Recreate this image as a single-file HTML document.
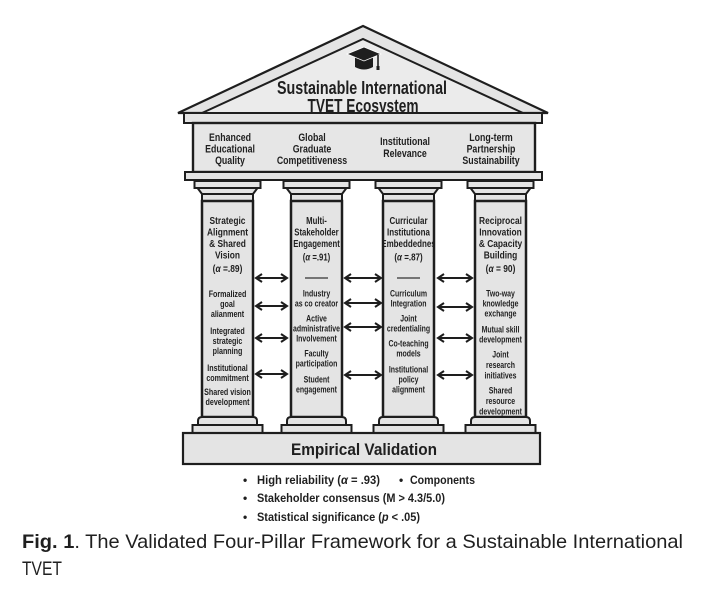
<!DOCTYPE html>
<html><head><meta charset="utf-8"><style>
html,body{margin:0;padding:0;background:#fff;}
svg{display:block;}
text{font-family:"Liberation Sans",Arial,sans-serif;fill:#1f1f1f;}
</style></head><body>
<svg width="712" height="600" viewBox="0 0 712 600" xmlns="http://www.w3.org/2000/svg">
<defs>
<clipPath id="c1"><rect x="203" y="200" width="50" height="218"/></clipPath>
<clipPath id="c2"><rect x="291" y="200" width="51" height="218"/></clipPath>
<clipPath id="c3"><rect x="383" y="200" width="51" height="218"/></clipPath>
<clipPath id="c4"><rect x="475" y="200" width="51" height="218"/></clipPath>
</defs>
<rect width="712" height="600" fill="#fff"/>

<!-- Roof -->
<polygon points="363,26 178,113 548,113" fill="#e4e4e4" stroke="#1e1e1e" stroke-width="2.2" stroke-linejoin="miter"/>
<polyline points="202,113 363,39 523,113" fill="#ebebeb" stroke="#1e1e1e" stroke-width="2"/>
<!-- grad cap -->
<path d="M355,57 L373,57 L373,67 Q364,72 355,67 Z" fill="#1e1e1e"/>
<polygon points="347,54 364,47 381,54 364,61" fill="#1e1e1e" stroke="#fff" stroke-width="0.8"/>
<line x1="378" y1="55" x2="378" y2="68" stroke="#1e1e1e" stroke-width="1.6"/>
<rect x="376.5" y="66" width="3" height="4" fill="#1e1e1e"/>
<text x="362" y="94" font-size="18" font-weight="bold" text-anchor="middle" textLength="170" lengthAdjust="spacingAndGlyphs">Sustainable International</text>
<text x="363" y="112" font-size="18" font-weight="bold" text-anchor="middle" textLength="111" lengthAdjust="spacingAndGlyphs">TVET Ecosystem</text>

<!-- Cornice -->
<rect x="184" y="113" width="358" height="10" fill="#e4e4e4" stroke="#1e1e1e" stroke-width="2"/>
<!-- Entablature -->
<rect x="193" y="123" width="342" height="49" fill="#e6e6e6" stroke="#1e1e1e" stroke-width="2.4"/>
<rect x="185" y="172" width="357" height="8" fill="#e4e4e4" stroke="#1e1e1e" stroke-width="2"/>

<g font-size="11" font-weight="bold" text-anchor="middle">
<g transform="translate(230,0) scale(0.8,1)">
<text x="0" y="141">Enhanced</text><text x="0" y="152.5">Educational</text><text x="0" y="164">Quality</text></g>
<g transform="translate(312,0) scale(0.8,1)">
<text x="0" y="141">Global</text><text x="0" y="152.5">Graduate</text><text x="0" y="164">Competitiveness</text></g>
<g transform="translate(405,0) scale(0.8,1)">
<text x="0" y="145">Institutional</text><text x="0" y="157">Relevance</text></g>
<g transform="translate(491,0) scale(0.8,1)">
<text x="0" y="141">Long-term</text><text x="0" y="152.5">Partnership</text><text x="0" y="164">Sustainability</text></g>
</g>

<!-- Pillars -->
<g fill="#e4e4e4" stroke="#1e1e1e" stroke-width="2">
<!-- p1 cx 227.5 -->
<rect x="194.5" y="181" width="66" height="7"/>
<polygon points="197.5,188 257.5,188 253,194 202,194"/>
<rect x="202" y="194" width="51" height="7"/>
<rect x="202" y="201" width="51" height="216" stroke-width="2.5"/>
<path d="M202,417 L253,417 Q257,417 257,421 L257,425 L198,425 L198,421 Q198,417 202,417 Z"/>
<rect x="192.5" y="425" width="70" height="8"/>
<!-- p2 cx 316.5 -->
<rect x="283.5" y="181" width="66" height="7"/>
<polygon points="286.5,188 346.5,188 342,194 291,194"/>
<rect x="291" y="194" width="51" height="7"/>
<rect x="291" y="201" width="51" height="216" stroke-width="2.5"/>
<path d="M291,417 L342,417 Q346,417 346,421 L346,425 L287,425 L287,421 Q287,417 291,417 Z"/>
<rect x="281.5" y="425" width="70" height="8"/>
<!-- p3 cx 408.5 -->
<rect x="375.5" y="181" width="66" height="7"/>
<polygon points="378.5,188 438.5,188 434,194 383,194"/>
<rect x="383" y="194" width="51" height="7"/>
<rect x="383" y="201" width="51" height="216" stroke-width="2.5"/>
<path d="M383,417 L434,417 Q438,417 438,421 L438,425 L379,425 L379,421 Q379,417 383,417 Z"/>
<rect x="373.5" y="425" width="70" height="8"/>
<!-- p4 cx 500.5 -->
<rect x="467.5" y="181" width="66" height="7"/>
<polygon points="470.5,188 530.5,188 526,194 475,194"/>
<rect x="475" y="194" width="51" height="7"/>
<rect x="475" y="201" width="51" height="216" stroke-width="2.5"/>
<path d="M475,417 L526,417 Q530,417 530,421 L530,425 L471,425 L471,421 Q471,417 475,417 Z"/>
<rect x="465.5" y="425" width="70" height="8"/>
</g>

<!-- Pillar texts -->
<g text-anchor="middle" font-weight="bold">
<!-- P1 -->
<g clip-path="url(#c1)"><g transform="translate(227.5,0) scale(0.8,1)">
<g font-size="10.5">
<text x="0" y="224">Strategic</text><text x="0" y="235.5">Alignment</text><text x="0" y="247">&amp; Shared</text><text x="0" y="258.5">Vision</text>
<text x="0" y="272">(<tspan font-style="italic">α</tspan> =.89)</text></g>
</g><g transform="translate(227.5,0) scale(0.76,1)" font-size="9.4">
<text x="0" y="297">Formalized</text><text x="0" y="307">goal</text><text x="0" y="317">alianment</text>
<text x="0" y="334">Integrated</text><text x="0" y="344">strategic</text><text x="0" y="354">planning</text>
<text x="0" y="371">Institutional</text><text x="0" y="381">commitment</text>
<text x="0" y="395">Shared vision</text><text x="0" y="405">development</text>
</g></g>
<!-- P2 -->
<g clip-path="url(#c2)"><g transform="translate(316.5,0) scale(0.74,1)">
<g font-size="10.5">
<text x="0" y="224">Multi-</text><text x="0" y="235.5">Stakeholder</text><text x="0" y="247">Engagement</text>
<text x="0" y="260.5">(<tspan font-style="italic">α</tspan> =.91)</text></g>
</g><g transform="translate(316.5,0) scale(0.74,1)" font-size="9.4">
<text x="0" y="296.5">Industry</text><text x="0" y="306.5">as co creator</text>
<text x="0" y="321.5">Active</text><text x="0" y="331.5">administrative</text><text x="0" y="341.5">Involvement</text>
<text x="0" y="356.5">Faculty</text><text x="0" y="366.5">participation</text>
<text x="0" y="382.5">Student</text><text x="0" y="392.5">engagement</text>
</g></g>
<!-- P3 -->
<g clip-path="url(#c3)"><g transform="translate(408.5,0) scale(0.76,1)">
<g font-size="10.5">
<text x="0" y="224">Curricular</text><text x="0" y="235.5">Institutiona</text><text x="0" y="247">Embeddednes</text>
<text x="0" y="260.5">(<tspan font-style="italic">α</tspan> =.87)</text></g>
</g><g transform="translate(408.5,0) scale(0.74,1)" font-size="9.4">
<text x="0" y="296.5">Curriculum</text><text x="0" y="306.5">Integration</text>
<text x="0" y="321.5">Joint</text><text x="0" y="331.5">credentialing</text>
<text x="0" y="346.5">Co-teaching</text><text x="0" y="356.5">models</text>
<text x="0" y="372.5">Institutional</text><text x="0" y="382.5">policy</text><text x="0" y="392.5">alignment</text>
</g></g>
<!-- P4 -->
<g clip-path="url(#c4)"><g transform="translate(500.5,0) scale(0.8,1)">
<g font-size="10.5">
<text x="0" y="224">Reciprocal</text><text x="0" y="235.5">Innovation</text><text x="0" y="247">&amp; Capacity</text><text x="0" y="258.5">Building</text>
<text x="0" y="272">(<tspan font-style="italic">α</tspan> = 90)</text></g>
</g><g transform="translate(500.5,0) scale(0.74,1)" font-size="9.4">
<text x="0" y="296.5">Two-way</text><text x="0" y="306.5">knowledge</text><text x="0" y="316.5">exchange</text>
<text x="0" y="332.5">Mutual skill</text><text x="0" y="342.5">development</text>
<text x="0" y="357.5">Joint</text><text x="0" y="368">research</text><text x="0" y="378.5">initiatives</text>
<text x="0" y="393.5">Shared</text><text x="0" y="404">resource</text><text x="0" y="414.5">development</text>
</g></g>
</g>

<!-- separators -->
<line x1="305" y1="278" x2="328" y2="278" stroke="#333" stroke-width="1.2"/>
<line x1="397" y1="278" x2="420" y2="278" stroke="#333" stroke-width="1.2"/>

<!-- Arrows -->
<g stroke="#1e1e1e" stroke-width="2" fill="none" stroke-linecap="butt" stroke-linejoin="miter">
<!-- p1-p2 -->
<path d="M256,278 H287 M262,274 L256,278 L262,282 M281,274 L287,278 L281,282"/>
<path d="M256,306 H287 M262,302 L256,306 L262,310 M281,302 L287,306 L281,310"/>
<path d="M256,338 H287 M262,334 L256,338 L262,342 M281,334 L287,338 L281,342"/>
<path d="M256,374 H287 M262,370 L256,374 L262,378 M281,370 L287,374 L281,378"/>
<!-- p2-p3 -->
<path d="M345,278 H381 M351,274 L345,278 L351,282 M375,274 L381,278 L375,282"/>
<path d="M345,303 H381 M351,299 L345,303 L351,307 M375,299 L381,303 L375,307"/>
<path d="M345,327 H381 M351,323 L345,327 L351,331 M375,323 L381,327 L375,331"/>
<path d="M345,375 H381 M351,371 L345,375 L351,379 M375,371 L381,375 L375,379"/>
<!-- p3-p4 -->
<path d="M438,278 H472 M444,274 L438,278 L444,282 M466,274 L472,278 L466,282"/>
<path d="M438,307 H472 M444,303 L438,307 L444,311 M466,303 L472,307 L466,311"/>
<path d="M438,338 H472 M444,334 L438,338 L444,342 M466,334 L472,338 L466,342"/>
<path d="M438,375 H472 M444,371 L438,375 L444,379 M466,371 L472,375 L466,379"/>
</g>

<!-- Stylobate -->
<rect x="183" y="433" width="357" height="31" fill="#e4e4e4" stroke="#1e1e1e" stroke-width="2.2"/>
<text x="364" y="455" font-size="17" font-weight="bold" text-anchor="middle" textLength="146" lengthAdjust="spacingAndGlyphs">Empirical Validation</text>

<!-- Bullets -->
<g font-size="12" font-weight="bold" fill="#2a2a2a">
<text x="243" y="484">•</text>
<text x="257" y="484" textLength="123" lengthAdjust="spacingAndGlyphs">High reliability (<tspan font-style="italic">α</tspan> = .93)</text>
<text x="399" y="484">•</text>
<text x="410" y="484" textLength="65" lengthAdjust="spacingAndGlyphs">Components</text>
<text x="243" y="502">•</text>
<text x="257" y="502" textLength="188" lengthAdjust="spacingAndGlyphs">Stakeholder consensus (M &gt; 4.3/5.0)</text>
<text x="243" y="521">•</text>
<text x="257" y="521" textLength="163" lengthAdjust="spacingAndGlyphs">Statistical significance (<tspan font-style="italic">p</tspan> &lt; .05)</text>
</g>

<!-- Caption -->
<text x="22" y="548" font-size="19.5" fill="#000" textLength="661" lengthAdjust="spacingAndGlyphs"><tspan font-weight="bold">Fig. 1</tspan>. The Validated Four-Pillar Framework for a Sustainable International</text>
<text x="22" y="575" font-size="19.5" fill="#000" textLength="40" lengthAdjust="spacingAndGlyphs">TVET</text>
</svg>
</body></html>
